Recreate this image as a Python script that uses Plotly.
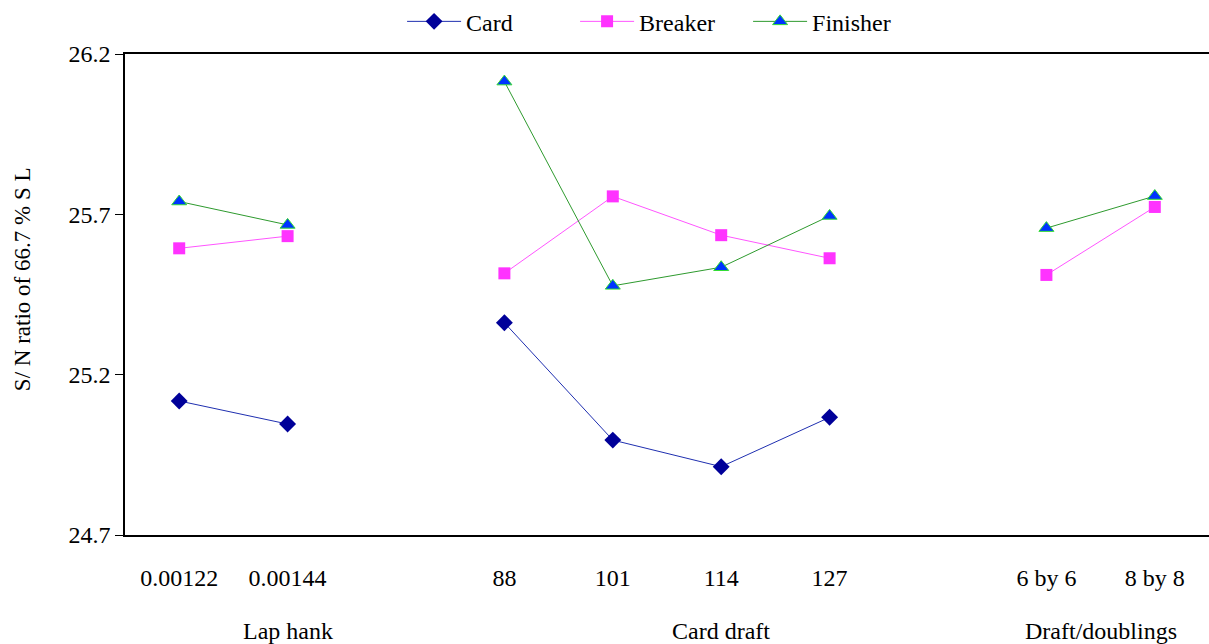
import plotly.graph_objects as go

# Category order (blank spacers separate the three factor groups)
categories = ["0.00122", "0.00144", " ", "88", "101", "114", "127", "  ", "6 by 6", "8 by 8"]
tick_labels = ["0.00122", "0.00144", "", "88", "101", "114", "127", "", "6 by 6", "8 by 8"]

card = [25.118, 25.046, None, 25.362, 24.996, 24.913, 25.067, None, None, None]
breaker = [25.594, 25.632, None, 25.516, 25.756, 25.635, 25.563, None, 25.511, 25.723]
finisher = [25.740, 25.667, None, 26.114, 25.477, 25.535, 25.695, None, 25.657, 25.757]

group_names = ["Lap hank", "Card draft", "Draft/doublings"]
group_anchor = ["0.00144", "114", None]  # third group centred between its two levels

y_ticks = [24.7, 25.2, 25.7, 26.2]
y_title = "S/ N ratio of 66.7 % S L"

FONT = "Liberation Serif"
FS = 24

fig = go.Figure()
fig.add_trace(go.Scatter(
    x=categories, y=card, name="Card", mode="lines+markers", connectgaps=False,
    line=dict(color="#1f2fb0", width=1),
    marker=dict(symbol="diamond", size=13, color="#000099", line=dict(width=0)),
))
fig.add_trace(go.Scatter(
    x=categories, y=breaker, name="Breaker", mode="lines+markers", connectgaps=False,
    line=dict(color="#ff55ff", width=1),
    marker=dict(symbol="square", size=12, color="#ff33ff", line=dict(width=0)),
))
fig.add_trace(go.Scatter(
    x=categories, y=finisher, name="Finisher", mode="lines+markers", connectgaps=False,
    line=dict(color="#2e9a2e", width=1),
    marker=dict(symbol="triangle-up", size=13, color="#0033ff", line=dict(color="#33dd33", width=1)),
))

annotations = []
for name, anchor in zip(group_names, group_anchor):
    if anchor is not None:
        xpos = categories.index(anchor)
    else:
        xpos = (categories.index("6 by 6") + categories.index("8 by 8")) / 2
    annotations.append(dict(
        x=xpos, xref="x", y=0, yref="paper", yshift=-96, text=name, showarrow=False,
        font=dict(family=FONT, size=FS, color="black"), xanchor="center", yanchor="middle",
    ))
# y-axis title, placed as in the reference
annotations.append(dict(
    x=-0.095, xref="paper", y=0.532, yref="paper", text=y_title, textangle=-90,
    showarrow=False, xanchor="center", yanchor="middle",
    font=dict(family=FONT, size=23, color="black"),
))

fig.update_layout(
    width=1209, height=644,
    margin=dict(l=125, r=0, t=54, b=109, autoexpand=False),
    paper_bgcolor="white", plot_bgcolor="white",
    font=dict(family=FONT, size=FS, color="black"),
    showlegend=True,
    legend=dict(orientation="h", x=0.495, xanchor="center", y=1.067, yanchor="middle",
                font=dict(family=FONT, size=FS, color="black"),
                itemwidth=54, entrywidth=104, entrywidthmode="pixels",
                tracegroupgap=0, bgcolor="rgba(0,0,0,0)"),
    annotations=annotations,
)
fig.update_xaxes(
    type="category", categoryorder="array", categoryarray=categories,
    tickmode="array", tickvals=categories, ticktext=tick_labels,
    range=[-0.5, len(categories) - 0.5],
    showline=True, linecolor="black", linewidth=1.5, mirror=True,
    showgrid=False, zeroline=False, ticks="", ticklen=0, ticklabelstandoff=20,
    tickfont=dict(family=FONT, size=FS, color="black"),
)
fig.update_yaxes(
    range=[24.7, 26.2], tickvals=y_ticks, ticktext=[f"{v:.1f}" for v in y_ticks],
    showline=True, linecolor="black", linewidth=1.5, mirror=False,
    showgrid=False, zeroline=False, ticks="outside", ticklen=8, tickcolor="black",
    tickfont=dict(family=FONT, size=FS, color="black"),
)

fig.write_html("out.html", config={"displayModeBar": False},
               post_script="document.body.style.margin='0px';document.body.style.padding='0px';")
